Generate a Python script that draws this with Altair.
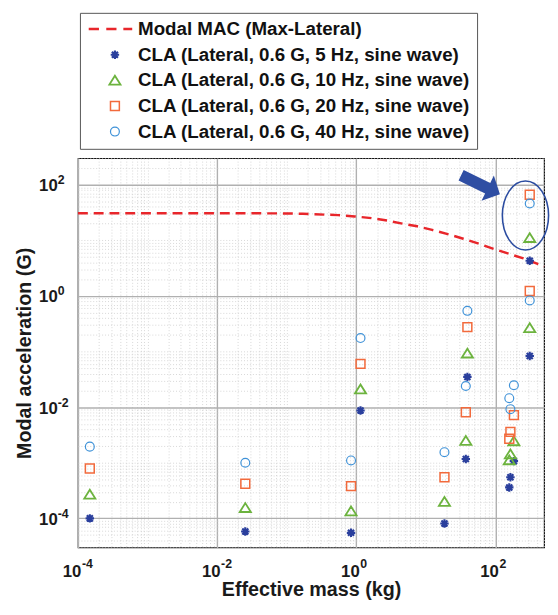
import altair as alt
import pandas as pd

# ---------------- data ----------------
LBL_MAC = "Modal MAC (Max-Lateral)"
LBL_5 = "CLA (Lateral, 0.6 G, 5 Hz, sine wave)"
LBL_10 = "CLA (Lateral, 0.6 G, 10 Hz, sine wave)"
LBL_20 = "CLA (Lateral, 0.6 G, 20 Hz, sine wave)"
LBL_40 = "CLA (Lateral, 0.6 G, 40 Hz, sine wave)"

masses = [1.48e-4, 0.0254, 0.84, 1.15, 18.5, 37.5, 39.5, 158, 164, 184, 311, 311]
cla_5hz = [1.0e-4, 5.8e-5, 5.5e-5, 8.7e-3, 8.1e-5, 1.17e-3, 0.035, 3.6e-4, 5.5e-4, 1.07e-3, 4.3, 0.083]
cla_10hz = [2.7e-4, 1.55e-4, 1.35e-4, 0.021, 2.0e-4, 2.5e-3, 0.093, 1.12e-3, 1.43e-3, 2.46e-3, 11.1, 0.266]
cla_20hz = [7.9e-4, 4.2e-4, 3.8e-4, 0.060, 5.5e-4, 8.1e-3, 0.275, 2.7e-3, 3.6e-3, 7.2e-3, 66.0, 1.23]
cla_40hz = [1.95e-3, 1.0e-3, 1.1e-3, 0.175, 1.55e-3, 0.024, 0.54, 0.0145, 9.2e-3, 0.0248, 46.0, 0.83]

modal_mass = [1e-4, 1e-3, 1e-2, 0.1, 0.17, 0.55, 0.95, 1.65, 2.8, 4.4, 7.5, 12.3, 20, 34.5, 56, 95, 158, 245, 500]
modal_mac = [30.8, 30.8, 30.7, 30.5, 30.0, 28.4, 26.9, 25.1, 22.6, 20.2, 17.9, 15.4, 13.1, 10.7, 8.8, 7.0, 5.7, 4.8, 3.4]

x_domain = [1e-4, 500]
y_domain = [3e-5, 300]

major_ticks = [0.0001, 0.01, 1, 100]
major_exps = ["-4", "-2", "0", "2"]

arrow_at = {"m": 61, "a": 100}
ellipse_at = {"m": 270, "a": 28}

series_labels = [LBL_MAC, LBL_5, LBL_10, LBL_20, LBL_40]
series_colors = ["#e8262b", "#2a3f9d", "#6cb33e", "#f26a3c", "#3f92d8"]
DASH_PATH = "M-5.91,0H-3.6M-1.95,0H0.35M1.9,0H3.9"
STAR_PATH = "M0,-0.95V0.95M-0.95,0H0.95M-0.68,-0.68L0.68,0.68M-0.68,0.68L0.68,-0.68"
TRI_PATH = "M0,-1.05L1.25,0.95L-1.25,0.95Z"
series_shapes = [DASH_PATH, STAR_PATH, TRI_PATH, "square", "circle"]
series_widths = [2.5, 1.2, 1.2, 1.2, 1.2]

rows = []
for lbl, vals in [(LBL_5, cla_5hz), (LBL_10, cla_10hz), (LBL_20, cla_20hz), (LBL_40, cla_40hz)]:
    for m, a in zip(masses, vals):
        rows.append({"mass": m, "acc": a, "series": lbl})
pts = pd.DataFrame(rows)
pts["order"] = range(len(pts))

mac = pd.DataFrame({"mass": modal_mass, "acc": modal_mac})

def grid_vals(k0, k1, lo, hi):
    out = []
    for k in range(k0, k1 + 1):
        for m in range(1, 10):
            v = float(f"{m}e{k}")
            if lo <= v <= hi:
                out.append(v)
    return out

x_vals = grid_vals(-4, 2, x_domain[0], x_domain[1])
y_vals = grid_vals(-5, 2, y_domain[0], y_domain[1])

MAJOR = "indexof(" + str(major_ticks) + ", datum.value) >= 0"
EXP_LABELS = " : ".join(
    f"datum.value == {v} ? '{e}'" for v, e in zip(major_ticks, major_exps)
) + " : ''"
BASE_LABELS = MAJOR + " ? '10' : ''"

FONT = "Liberation Sans"
TXT = "#1a1a1a"

common = dict(
    labelFont=FONT, labelFontWeight="bold", labelColor=TXT,
    labelOverlap=False, labelFlush=False, labelBound=False,
    ticks=False, domain=False,
)

def base_axis(vals, **kw):
    return alt.Axis(
        values=vals, labelExpr=BASE_LABELS, labelFontSize=17,
        grid=True,
        gridColor={"condition": {"test": MAJOR, "value": "#b0b0b0"}, "value": "#cdcdcd"},
        gridDash={"condition": {"test": MAJOR, "value": [1, 0]}, "value": [1, 2]},
        gridWidth={"condition": {"test": MAJOR, "value": 1.4}, "value": 0.8},
        titleFont=FONT, titleFontSize=20, titleFontWeight="bold", titleColor=TXT,
        **common, **kw,
    )

def exp_axis(vals, **kw):
    return alt.Axis(
        values=vals, labelExpr=EXP_LABELS, labelFontSize=12.5, grid=False, title=None,
        **common, **kw,
    )

x_scale = alt.Scale(type="log", domain=x_domain, nice=False)
y_scale = alt.Scale(type="log", domain=y_domain, nice=False)

x_base = alt.X("mass:Q", scale=x_scale,
               axis=base_axis(x_vals, orient="bottom", title="Effective mass (kg)",
                              labelPadding=16, labelOffset=-6.5,
                              titleY=49, titleBaseline="alphabetic"))
y_base = alt.Y("acc:Q", scale=y_scale,
               axis=base_axis(y_vals, orient="left", title="Modal acceleration (G)",
                              labelPadding=21, labelOffset=1,
                              titleX=-54, titleY=197.5, titleAngle=270,
                              titleAlign="center", titleBaseline="middle"))
x_exp = alt.X("mass:Q", scale=x_scale,
              axis=exp_axis(x_vals, orient="bottom", labelPadding=10, labelOffset=3.5,
                            labelAlign="left"))
y_exp = alt.Y("acc:Q", scale=y_scale,
              axis=exp_axis(y_vals, orient="left", labelPadding=21, labelOffset=-5,
                            labelAlign="left"))

line = alt.Chart(mac).mark_line(color="#e8262b", strokeDash=[10, 6], strokeWidth=2.5).encode(
    x=x_base, y=y_base
)

exp_layer = alt.Chart(mac).mark_line(opacity=0).encode(x=x_exp, y=y_exp)

legend = alt.Legend(title=None, orient="none", legendX=2, legendY=-147.5,
                    symbolOffset=19, labelOffset=14)

points = alt.Chart(pts).mark_point(filled=False, size=81, opacity=1).encode(
    x=alt.X("mass:Q", axis=None),
    y=alt.Y("acc:Q", axis=None),
    color=alt.Color("series:N", scale=alt.Scale(domain=series_labels, range=series_colors),
                    legend=legend),
    shape=alt.Shape("series:N", scale=alt.Scale(domain=series_labels, range=series_shapes)),
    strokeWidth=alt.StrokeWidth("series:N", scale=alt.Scale(domain=series_labels, range=series_widths)),
    order=alt.Order("order:Q"),
)

ARROW_PATH = "M-1,-0.27L0.37,-0.27L0.37,-0.65L1,0L0.37,0.65L0.37,0.27L-1,0.27Z"
arrow = alt.Chart(pd.DataFrame([arrow_at])).mark_point(
    shape=ARROW_PATH, size=1918, angle=26, filled=True, color="#2f4ea3", opacity=1, strokeWidth=0
).encode(x=alt.X("m:Q", axis=None), y=alt.Y("a:Q", axis=None))

ELLIPSE_PATH = "M-0.67,0A0.67,1,0,1,0,0.67,0A0.67,1,0,1,0,-0.67,0Z"
ellipse = alt.Chart(pd.DataFrame([ellipse_at])).mark_point(
    shape=ELLIPSE_PATH, size=4900, filled=False, color="#2b4ca0", opacity=1, strokeWidth=1.6
).encode(x=alt.X("m:Q", axis=None), y=alt.Y("a:Q", axis=None))

chart = alt.layer(line, exp_layer, points, arrow, ellipse).resolve_axis(
    x="independent", y="independent"
).properties(
    width=473, height=395,
    autosize=alt.AutoSizeParams(type="none"),
    padding={"left": 71, "top": 148, "right": 6, "bottom": 55},
).configure_view(
    stroke="#111111", strokeWidth=1.2
).configure_legend(
    labelFont=FONT, labelFontSize=19, labelFontWeight="bold", labelColor="#111111",
    labelLimit=500, symbolSize=81,
    padding=7, rowPadding=6, strokeColor="#555555", fillColor="white",
    symbolStrokeWidth=1.2,
)

chart.save("out.html", embed_options={"renderer": "svg", "actions": False})
